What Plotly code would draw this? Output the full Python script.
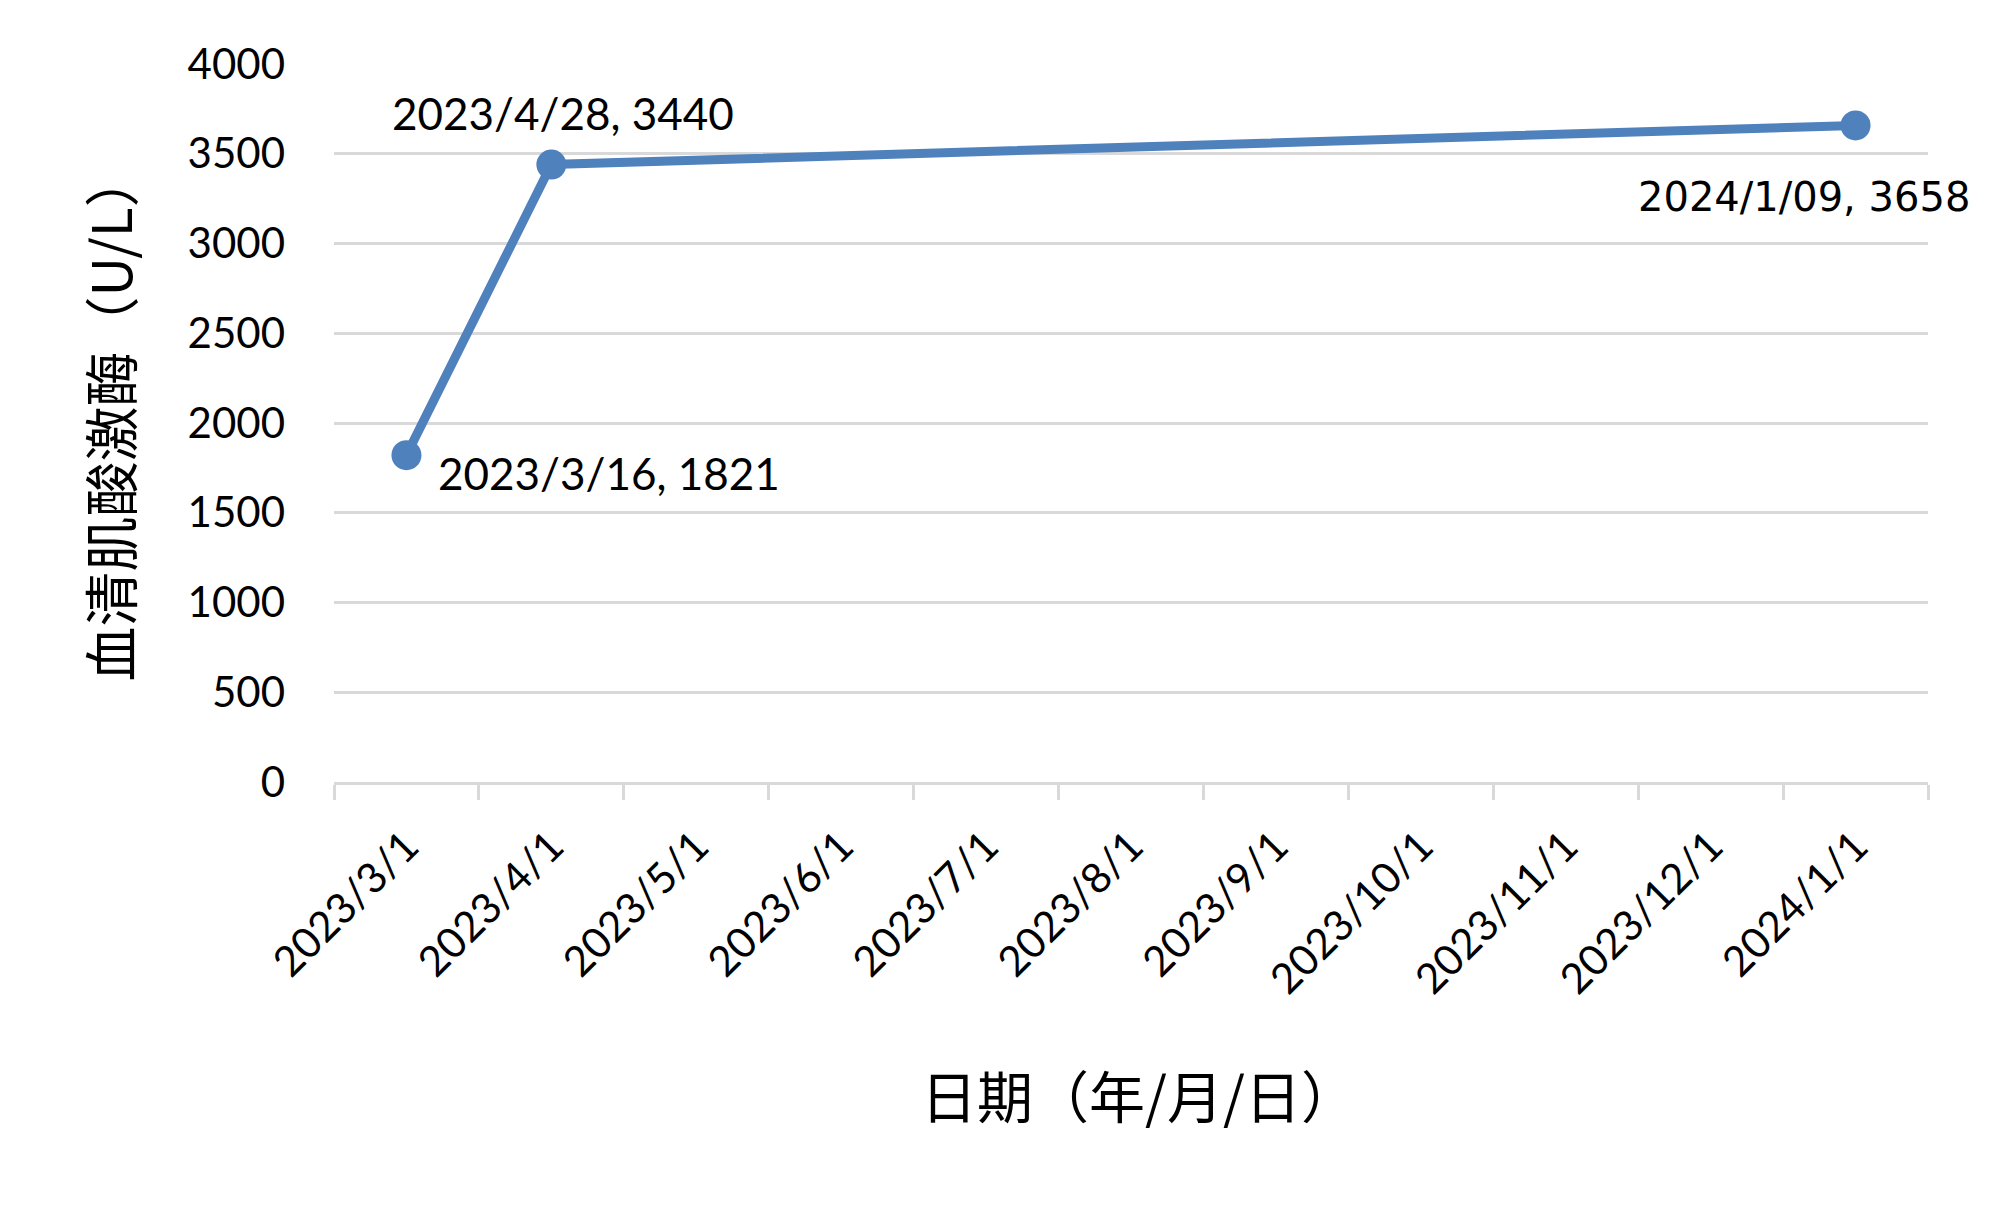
import plotly.graph_objects as go

# ---- data ----
months = ["2023/3/1", "2023/4/1", "2023/5/1", "2023/6/1", "2023/7/1", "2023/8/1",
          "2023/9/1", "2023/10/1", "2023/11/1", "2023/12/1", "2024/1/1"]
dates = ["2023/3/16", "2023/4/28", "2024/1/09"]
ck_values = [1821, 3440, 3658]
y_ticks = [0, 500, 1000, 1500, 2000, 2500, 3000, 3500, 4000]

x_title = "日期（年/月/日）"
y_title = "血清肌酸激酶（U/L）"

# each measurement falls in its month bin (Excel date axis, base unit = months)
def month_bin(d):
    y, m, _ = d.split("/")
    return f"{y}/{int(m)}/1"

x_cat = [month_bin(d) for d in dates]

LINE_COLOR = "#4f81bd"
GRID = "#d9d9d9"
LAT = "Lato, 'Liberation Sans', sans-serif"
CJK = "'Noto Sans CJK SC', sans-serif"

fig = go.Figure()
fig.add_trace(go.Scatter(
    x=x_cat, y=ck_values, mode="lines+markers",
    line=dict(color=LINE_COLOR, width=9),
    marker=dict(color=LINE_COLOR, size=30),
    showlegend=False, hoverinfo="skip",
))

# data labels: (xshift, yshift, xanchor, font)
label_styles = [
    dict(xshift=30, yshift=-18, xanchor="left", font=dict(family=LAT, size=44, color="black")),
    dict(xshift=12, yshift=52, xanchor="center", font=dict(family=LAT, size=44, color="black")),
    dict(xshift=-52, yshift=-72, xanchor="center", font=dict(family="'DejaVu Sans', sans-serif", size=40, color="black")),
]
for xc, d, v, st in zip(x_cat, dates, ck_values, label_styles):
    fig.add_annotation(x=xc, y=v, xref="x", yref="y", text=f"{d}, {v}",
                       showarrow=False, yanchor="middle", **st)

fig.add_annotation(text=y_title, xref="paper", yref="paper", x=-0.1418, y=0.509,
                   textangle=-90, showarrow=False, xanchor="center", yanchor="middle",
                   font=dict(family=CJK, size=55, color="black"))
fig.add_annotation(text=x_title, xref="paper", yref="paper", x=0.505, y=-0.4345,
                   showarrow=False, xanchor="center", yanchor="middle",
                   font=dict(family=CJK, size=56, color="black"))

fig.update_layout(
    width=1999, height=1216,
    margin=dict(l=326, r=79, t=56, b=442),
    paper_bgcolor="white", plot_bgcolor="white",
    xaxis=dict(
        type="category", categoryorder="array", categoryarray=months,
        tickvals=months, ticktext=months,
        range=[-0.5, len(months) - 0.5],
        tickson="boundaries", ticks="outside", ticklen=15, tickwidth=2.5, tickcolor=GRID,
        showgrid=False, showline=True, linecolor=GRID, linewidth=2.5,
        tickangle=-45, ticklabelstandoff=20,
        tickfont=dict(family=LAT, size=42, color="black"),
        zeroline=False,
    ),
    yaxis=dict(
        range=[0, 4000], tickvals=y_ticks,
        showgrid=True, gridcolor=GRID, gridwidth=2.5,
        zeroline=False, showline=False, ticks="",
        ticklabelstandoff=48,
        tickfont=dict(family=LAT, size=42, color="black"),
    ),
)

fig.write_html("out.html")
